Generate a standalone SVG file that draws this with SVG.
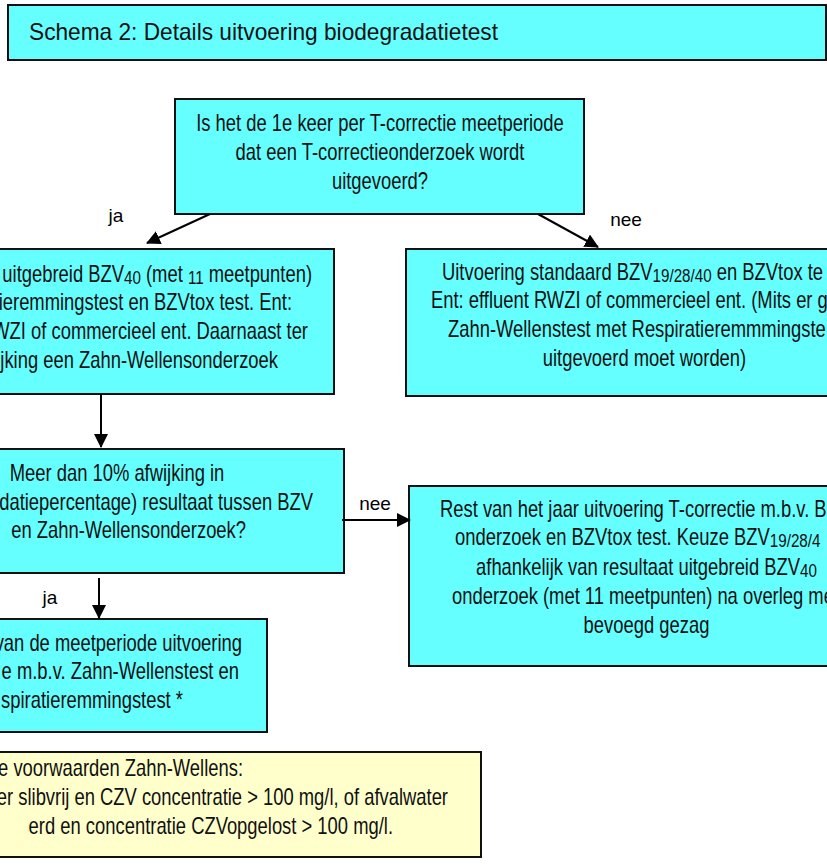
<svg xmlns="http://www.w3.org/2000/svg" width="827" height="865" viewBox="0 0 827 865">
<style>
.box{fill:#66FFFF;stroke:#111;stroke-width:2}
.note{fill:#FFFFCC;stroke:#111;stroke-width:2}
.t{font-family:"Liberation Sans",Arial,sans-serif;font-size:23px;fill:#111}
.title{font-family:"Liberation Sans",Arial,sans-serif;font-size:24px;fill:#111}
.lbl{font-family:"Liberation Sans",Arial,sans-serif;font-size:19px;fill:#000}
.sub{font-size:19px}
.conn line{stroke:#000;stroke-width:2;marker-end:url(#ah)}
</style>
<defs>
<marker id="ah" markerUnits="userSpaceOnUse" markerWidth="14" markerHeight="14" refX="13" refY="7" orient="auto">
<path d="M0,0 L14,7 L0,14 z" fill="#000"/>
</marker>
</defs>
<rect width="827" height="865" fill="#fff"/>

<g id="title">
<rect class="box" x="8" y="5" width="818" height="55"/>
<text class="title" x="29" y="40" textLength="469" lengthAdjust="spacingAndGlyphs">Schema 2: Details uitvoering biodegradatietest</text>
</g>

<g id="q1">
<rect class="box" x="175" y="99" width="409" height="115"/>
<g class="t" text-anchor="middle">
<text transform="translate(380,0) scale(0.8,1)" y="131">Is het de 1e keer per T-correctie meetperiode</text>
<text transform="translate(380,0) scale(0.8,1)" y="160">dat een T-correctieonderzoek wordt</text>
<text transform="translate(380,0) scale(0.8,1)" y="189">uitgevoerd?</text>
</g>
</g>

<g id="uitgebreid">
<rect class="box" x="-200" y="249" width="534" height="145"/>
<g class="t" text-anchor="end">
<text transform="translate(312,0) scale(0.8,1)" y="282">uitgebreid BZV<tspan class="sub" dy="2">40</tspan><tspan dy="-2"> (met </tspan><tspan class="sub" dy="2">11</tspan><tspan dy="-2"> meetpunten)</tspan></text>
<text transform="translate(292,0) scale(0.8,1)" y="310">ieremmingstest en BZVtox test. Ent:</text>
<text transform="translate(308,0) scale(0.8,1)" y="339">WZI of commercieel ent. Daarnaast ter</text>
<text transform="translate(278,0) scale(0.8,1)" y="368">jking een Zahn-Wellensonderzoek</text>
</g>
</g>

<g id="standaard">
<rect class="box" x="406" y="249" width="478" height="147"/>
<g class="t">
<text transform="translate(442,0) scale(0.8,1)" y="280">Uitvoering standaard BZV<tspan class="sub" dy="2">19/28/40</tspan><tspan dy="-2"> en BZVtox te</tspan></text>
<text transform="translate(431,0) scale(0.8,1)" y="308">Ent: effluent RWZI of commercieel ent. (Mits er g</text>
<text transform="translate(448,0) scale(0.8,1)" y="337">Zahn-Wellenstest met Respiratieremmmingste</text>
<text transform="translate(644.5,0) scale(0.8,1)" y="366" text-anchor="middle">uitgevoerd moet worden)</text>
</g>
</g>

<g id="afwijking">
<rect class="box" x="-200" y="449" width="544" height="124"/>
<g class="t">
<text transform="translate(117,0) scale(0.8,1)" y="481" text-anchor="middle">Meer dan 10% afwijking in</text>
<text transform="translate(313,0) scale(0.8,1)" y="510" text-anchor="end">datiepercentage) resultaat tussen BZV</text>
<text transform="translate(246,0) scale(0.8,1)" y="538" text-anchor="end">en Zahn-Wellensonderzoek?</text>
</g>
</g>

<g id="rest">
<rect class="box" x="409" y="486" width="475" height="180"/>
<g class="t">
<text transform="translate(440,0) scale(0.8,1)" y="517">Rest van het jaar uitvoering T-correctie m.b.v. B</text>
<text transform="translate(455,0) scale(0.8,1)" y="545">onderzoek en BZVtox test. Keuze BZV<tspan class="sub" dy="2">19/28/4</tspan></text>
<text transform="translate(646.5,0) scale(0.8,1)" y="575" text-anchor="middle">afhankelijk van resultaat uitgebreid BZV<tspan class="sub" dy="2">40</tspan></text>
<text transform="translate(452,0) scale(0.8,1)" y="604">onderzoek (met 11 meetpunten) na overleg me</text>
<text transform="translate(646.5,0) scale(0.8,1)" y="633" text-anchor="middle">bevoegd gezag</text>
</g>
</g>

<g id="zahnwellens">
<rect class="box" x="-200" y="619" width="467" height="113"/>
<g class="t" text-anchor="end">
<text transform="translate(242,0) scale(0.8,1)" y="651">van de meetperiode uitvoering</text>
<text transform="translate(239,0) scale(0.8,1)" y="679">e m.b.v. Zahn-Wellenstest en</text>
<text transform="translate(183,0) scale(0.8,1)" y="708">spiratieremmingstest *</text>
</g>
</g>

<g id="voorwaarden">
<rect class="note" x="-200" y="752" width="681" height="105"/>
<g class="t" text-anchor="end">
<text transform="translate(243,0) scale(0.8,1)" y="776">e voorwaarden Zahn-Wellens:</text>
<text transform="translate(448,0) scale(0.8,1)" y="805">ter slibvrij en CZV concentratie &gt; 100 mg/l, of afvalwater</text>
<text transform="translate(393,0) scale(0.8,1)" y="834">erd en concentratie CZVopgelost &gt; 100 mg/l.</text>
</g>
</g>

<g id="connectors" class="conn">
<line x1="210" y1="214" x2="147" y2="243"/>
<line x1="538" y1="214" x2="598" y2="247"/>
<line x1="101" y1="394" x2="101" y2="447"/>
<line x1="342" y1="520" x2="410" y2="520"/>
<line x1="99" y1="578" x2="99" y2="618"/>
</g>

<g id="labels" class="lbl">
<text x="116" y="222" text-anchor="middle">ja</text>
<text x="626" y="226" text-anchor="middle">nee</text>
<text x="375" y="510" text-anchor="middle">nee</text>
<text x="50" y="604" text-anchor="middle">ja</text>
</g>
</svg>
